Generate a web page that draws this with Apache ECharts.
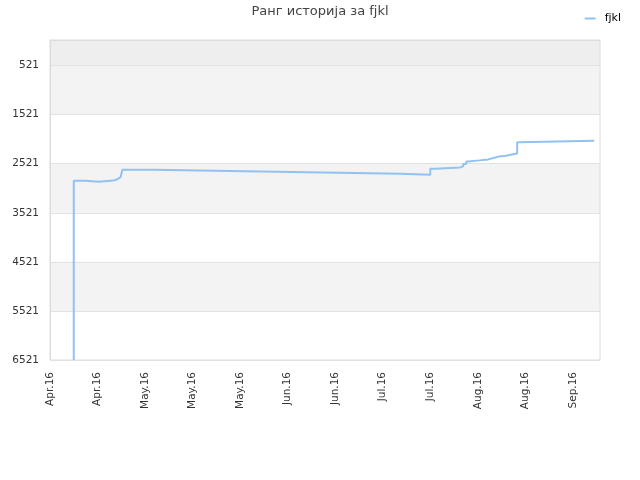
<!DOCTYPE html>
<html><head><meta charset="utf-8">
<script src="https://cdn.jsdelivr.net/npm/echarts@6/dist/echarts.min.js"></script>
<style>html,body{margin:0;padding:0;background:#fff}#c{width:640px;height:480px}</style>
</head><body><div id="c"></div>
<script>
// x: days since 5 Apr 2016 ; y: rank
const seriesName = 'fjkl';
const days  = [7, 7, 10.3, 14.4, 18.6, 19.5, 20.1, 20.8, 21.3, 30.4, 48.6, 66.6, 84.9, 103.2, 112, 113.5, 120.8, 121.7, 122.6, 123.2, 126.4, 129.1, 130.9, 132.3, 134.4, 135.6, 137.6, 138.2, 160.3];
const ranks = [6521, 2870, 2888, 2865, 2848, 2827, 2793, 2759, 2643, 2664, 2684, 2705, 2725, 2746, 2623, 2596, 2576, 2527, 2474, 2453, 2433, 2398, 2372, 2358, 2337, 2311, 2086, 2052, 2052];
const xTickLabels = ['Apr.16','Apr.16','May.16','May.16','May.16','Jun.16','Jun.16','Jul.16','Jul.16','Aug.16','Aug.16','Sep.16'];
const yTickValues = [521, 1521, 2521, 3521, 4521, 5521, 6521];

// step shape: hold each rank until the next date
const stepData = [];
days.forEach((d, i) => {
  if (i > 0) stepData.push([d, ranks[i - 1]]);
  stepData.push([d, ranks[i]]);
});

const chart = echarts.init(document.getElementById('c'), null, {renderer:'canvas'});
const font = 'DejaVu Sans';
chart.setOption({
  animation:false,
  textStyle:{fontFamily:font},
  title:{text:'Ранг историја за fjkl', left:'center', top:0,
    textStyle:{fontFamily:font, fontSize:13, fontWeight:'normal', color:'#444'}},
  legend:{right:14, top:8, itemWidth:11, itemHeight:2, icon:'rect',
    textStyle:{fontFamily:font, fontSize:11, color:'#000', padding:[0,0,0,4]},
    data:[{name:seriesName}]},
  grid:{left:50, right:40, top:40, bottom:120, show:true, z:4, borderColor:'#dcdcdc', borderWidth:1, backgroundColor:'transparent'},
  xAxis:{type:'value', min:0, max:162, interval:14, z:4,
    axisLine:{show:true, lineStyle:{color:'#dcdcdc'}},
    axisTick:{show:false}, splitLine:{show:false},
    axisLabel:{rotate:90, fontSize:10.5, color:'#333', fontFamily:font, margin:12,
      showMaxLabel:false,
      formatter:(v)=>{const i=Math.round(v/14); return xTickLabels[i]||'';}}},
  yAxis:{type:'value', inverse:true, min:0, max:6521, z:4,
    axisLine:{show:true, lineStyle:{color:'#dcdcdc'}},
    axisTick:{show:false, customValues:yTickValues},
    splitLine:{show:true, lineStyle:{color:'#e2e2e2'}},
    axisLabel:{customValues:yTickValues, fontSize:10.5, color:'#333', fontFamily:font, margin:11,
      formatter:(v)=>String(v)}},
  series:[{
    name:seriesName, type:'line', showSymbol:false, z:5,
    lineStyle:{color:'#92c2f2', width:2}, itemStyle:{color:'#92c2f2'},
    data: stepData,
    markArea:{silent:true, z:1, data:[
      [{yAxis:0, itemStyle:{color:'#eeeeee'}},{yAxis:521}],
      [{yAxis:521, itemStyle:{color:'#f3f3f3'}},{yAxis:1521}],
      [{yAxis:2521, itemStyle:{color:'#f3f3f3'}},{yAxis:3521}],
      [{yAxis:4521, itemStyle:{color:'#f3f3f3'}},{yAxis:5521}]
    ]}
  }]
});
</script></body></html>
